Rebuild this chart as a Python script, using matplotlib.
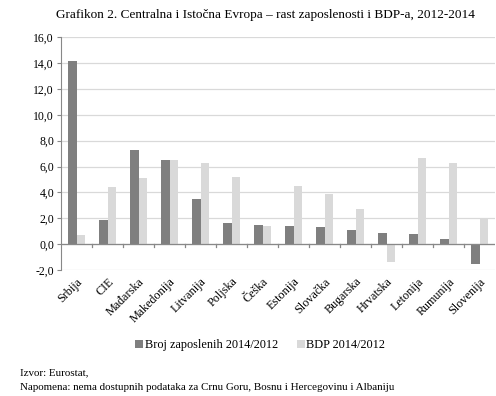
import matplotlib.pyplot as plt
import numpy as np

plt.rcParams['font.family'] = ['Liberation Serif', 'DejaVu Serif']

countries = ["Srbija", "CIE", "Mađarska", "Makedonija", "Litvanija", "Poljska", "Češka",
             "Estonija", "Slovačka", "Bugarska", "Hrvatska", "Letonija", "Rumunija", "Slovenija"]
zaposleni = [14.2, 1.85, 7.3, 6.5, 3.5, 1.65, 1.5, 1.4, 1.35, 1.1, 0.9, 0.8, 0.4, -1.5]
bdp = [0.7, 4.45, 5.15, 6.5, 6.3, 5.2, 1.4, 4.5, 3.85, 2.75, -1.4, 6.7, 6.25, 1.95]
yticks = [-2, 0, 2, 4, 6, 8, 10, 12, 14, 16]

fig = plt.figure(figsize=(4.96, 3.96), dpi=100)
ax = fig.add_axes([0.123, 0.318, 0.875, 0.588])

x = np.arange(len(countries))
w = 0.29
ax.bar(x - w / 2, zaposleni, w, color="#7f7f7f", label="Broj zaposlenih 2014/2012", zorder=3)
ax.bar(x + w / 2, bdp, w, color="#d9d9d9", label="BDP 2014/2012", zorder=3)

ax.set_xlim(-0.5, len(countries) - 0.5)
ax.set_ylim(-2, 16)
ax.set_yticks(yticks)
ax.set_yticklabels([f"{v:.1f}".replace(".", ",") for v in yticks], fontsize=8.5)
ax.yaxis.grid(True, color="#d9d9d9", linewidth=0.9, zorder=0)
ax.tick_params(axis="y", length=3, color="#888888", pad=2)

for s in ["top", "right", "bottom"]:
    ax.spines[s].set_visible(False)
ax.spines["left"].set_color("#888888")
ax.axhline(0, color="#888888", linewidth=0.9, zorder=4)
for b in np.arange(0.5, len(countries) - 0.5, 1.0):
    ax.plot([b, b], [0, -0.25], color="#888888", linewidth=0.9, zorder=4, clip_on=False)

ax.set_xticks(x)
ax.set_xticklabels(countries, rotation=45, ha="right", rotation_mode="anchor", fontsize=8.7)
ax.tick_params(axis="x", length=0, pad=4)

fig.text(0.536, 0.962, "Grafikon 2. Centralna i Istočna Evropa – rast zaposlenosti i BDP-a, 2012-2014",
         ha="center", va="center", fontsize=9.5)
fig.legend(loc="center", bbox_to_anchor=(0.525, 0.128), ncol=2, frameon=False, fontsize=8.8,
           handlelength=0.6, handleheight=0.6, handletextpad=0.15, columnspacing=1.6)
fig.text(0.04, 0.058, "Izvor: Eurostat,", fontsize=7.9, va="center")
fig.text(0.04, 0.022, "Napomena: nema dostupnih podataka za Crnu Goru, Bosnu i Hercegovinu i Albaniju",
         fontsize=7.9, va="center")

fig.savefig("out.png", dpi=100)
